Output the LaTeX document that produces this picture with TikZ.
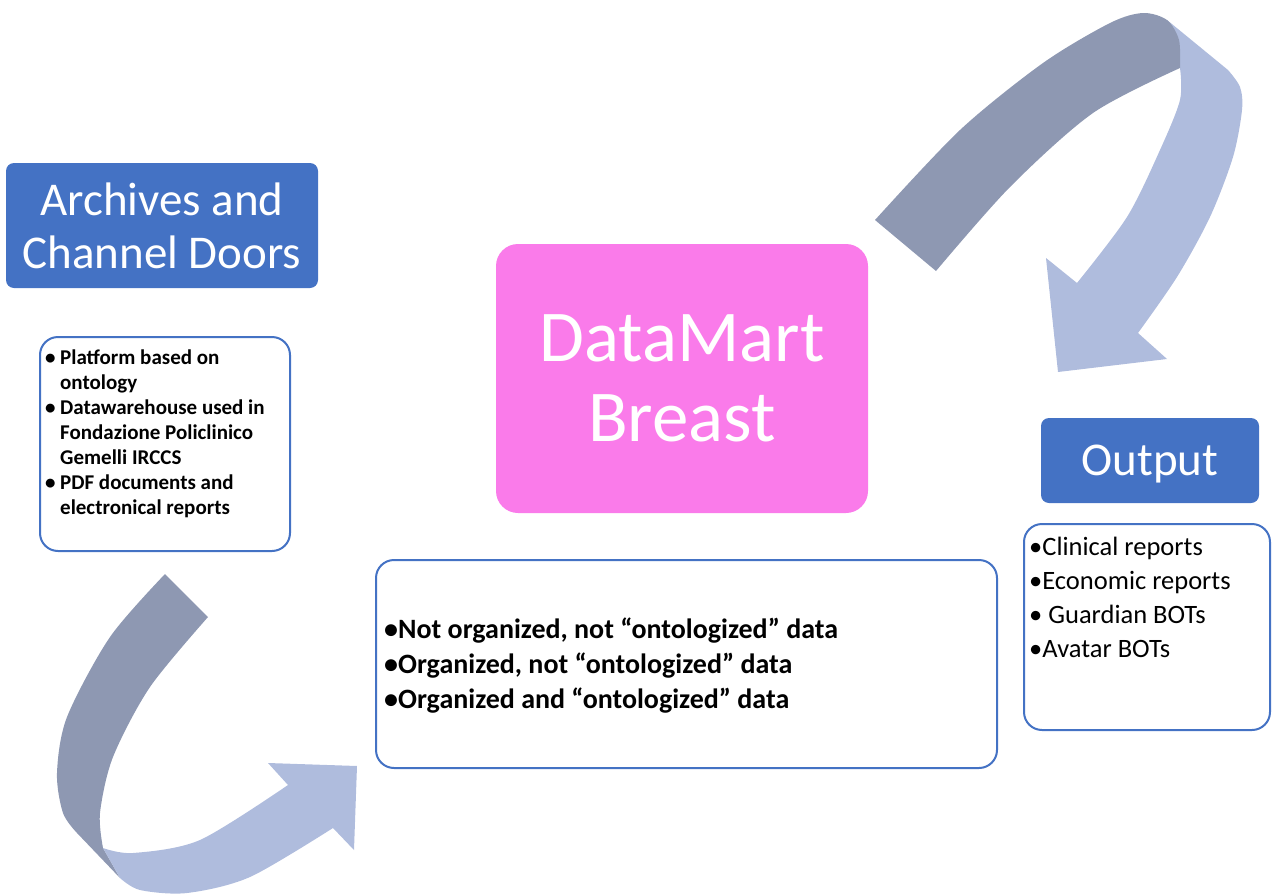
\documentclass[tikz,border=0pt]{standalone}
\usepackage{fontspec}
\setmainfont{Carlito}
\usetikzlibrary{positioning}
\definecolor{titleblue}{HTML}{4472C4}
\definecolor{martpink}{HTML}{FA7BEA}
\definecolor{ribbondark}{HTML}{8E98B2}
\definecolor{ribbonlight}{HTML}{AFBCDD}
\newcommand{\lbul}{\makebox[15pt][l]{\textbullet}}
\newcommand{\lgap}{\hspace*{15pt}}

\begin{document}
\begin{tikzpicture}[x=1pt, y=-1pt,
    titlebox/.style={rectangle, rounded corners=8pt, fill=titleblue, text=white, align=center, inner sep=0pt},
    listbox/.style={rectangle, rounded corners=18pt, draw=titleblue, line width=2pt, fill=white, inner sep=0pt},
    listtext/.style={align=left, inner sep=0pt}]
    \useasboundingbox (0,0) rectangle (1272,894);

    \node[titlebox, minimum width=312pt, minimum height=125pt, font=\fontsize{47}{53}\selectfont] (archives) at (162,225.5) {Archives and\\Channel Doors};
    \node[listbox, minimum width=250pt, minimum height=214pt] (archlist) at (165,444) {};
    \node[listtext, font=\bfseries\fontsize{21}{25}\selectfont, below right=11pt and 6pt of archlist.north west] (architems) {\strut\lbul Platform based on\\ \lgap ontology\\ \lbul Datawarehouse used in\\ \lgap Fondazione Policlinico\\ \lgap Gemelli IRCCS\\ \lbul PDF documents and\\ \lgap electronical reports};

    \node[rectangle, rounded corners=22pt, fill=martpink, text=white, align=center, minimum width=372pt, minimum height=269pt, font=\fontsize{73}{80}\selectfont] (datamart) at (682,378.5) {DataMart\\Breast};
    \node[listbox, minimum width=621pt, minimum height=208pt] (datalist) at (686.5,664) {};
    \node[listtext, font=\bfseries\fontsize{28}{35}\selectfont, below right=55pt and 9pt of datalist.north west] (dataitems) {\strut•Not organized, not “ontologized” data\\ •Organized, not “ontologized” data\\ •Organized and “ontologized” data};

    \node[titlebox, minimum width=218pt, minimum height=85pt, text depth=0pt, font=\fontsize{47}{53}\selectfont] (output) at (1150,460.5) {Output};
    \node[listbox, minimum width=246pt, minimum height=206pt] (outlist) at (1147,627) {};
    \node[listtext, font=\fontsize{26.5}{34}\selectfont, below right=8pt and 6pt of outlist.north west] (outitems) {\strut•Clinical reports\\ •Economic reports\\ • Guardian BOTs\\ •Avatar BOTs};

    \fill[ribbondark] plot[smooth] coordinates {(165,574) (110,637) (67,717) (57,773) (63,813) (77,833)} -- (120,878) -- (103,848) -- plot[smooth] coordinates {(103,848) (100,813) (113,757) (150,687) (208,617)} -- cycle;
    \fill[ribbonlight] (103,848) -- plot[smooth] coordinates {(103,848) (133,853) (200,840) (288,785)} -- (268,763) -- (357,766) -- (354,850) -- (333,828) -- plot[smooth] coordinates {(333,828) (250,877) (187,893) (140,890) (120,878)} -- cycle;

    \fill[ribbonlight] (1167,20) -- (1228,70) -- plot[smooth] coordinates {(1228,70) (1240,87) (1242,110) (1233,157) (1210,217) (1177,277) (1138,333)} -- (1167,359) -- (1058,372) -- (1046,258) -- (1077,283) -- plot[smooth] coordinates {(1077,283) (1127,217) (1160,150) (1180,100) (1180,68)} -- (1179,40) -- cycle;
    \fill[ribbondark] plot[smooth] coordinates {(875,220) (960,130) (1043,63) (1110,23) (1143,13) (1167,20) (1179,40) (1180,68)} -- plot[smooth] coordinates {(1180,68) (1093,113) (1010,187) (936,271)} -- cycle;
\end{tikzpicture}
\end{document}
